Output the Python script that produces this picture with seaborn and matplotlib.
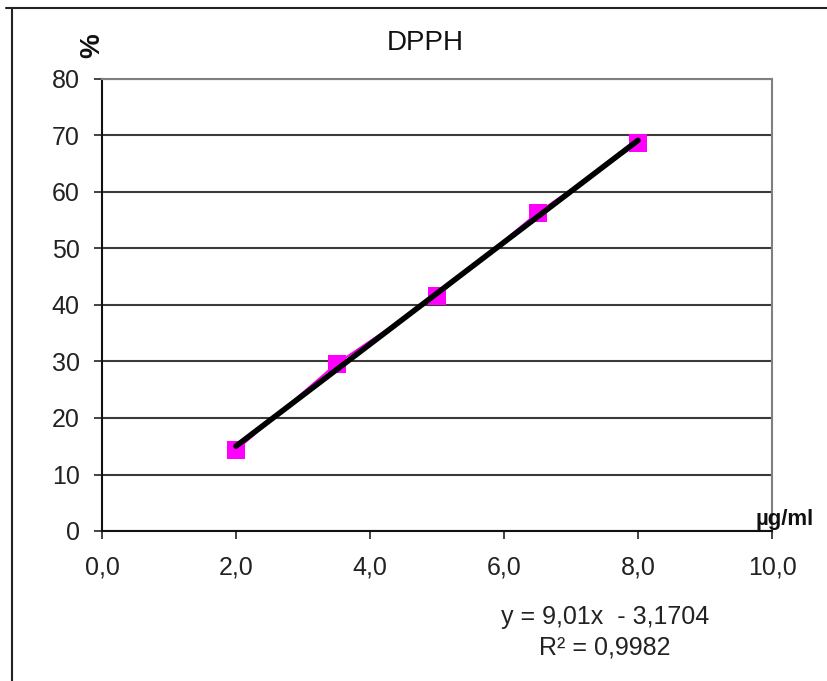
import matplotlib
matplotlib.use("Agg")
import matplotlib.pyplot as plt
from matplotlib.lines import Line2D
import seaborn as sns
import numpy as np
import pandas as pd

# Data
concentration = [2.0, 3.5, 5.0, 6.5, 8.0]
inhibition = [14.3, 29.6, 41.6, 56.3, 68.6]
x_ticks = [0, 2, 4, 6, 8, 10]
x_tick_labels = ["0,0", "2,0", "4,0", "6,0", "8,0", "10,0"]
y_ticks = [0, 10, 20, 30, 40, 50, 60, 70, 80]
equation_text = "y = 9,01x  - 3,1704"
r2_text = "R² = 0,9982"

sns.set_theme(style="white")
plt.rcParams['font.family'] = ['Liberation Sans', 'DejaVu Sans']

df = pd.DataFrame({"x": concentration, "y": inhibition})

fig = plt.figure(figsize=(8.27, 6.81), dpi=100)
ax = fig.add_axes([102/827, 1-531/681, 670/827, 452/681])

sns.lineplot(data=df, x="x", y="y", ax=ax, color="#FF00FF", marker="s",
             markersize=13.5, markeredgewidth=0, linewidth=1.5, zorder=3)
sns.regplot(data=df, x="x", y="y", ax=ax, ci=None, scatter=False,
            line_kws=dict(color="black", linewidth=4, solid_capstyle="round", zorder=4))

ax.set_xlim(0, 10)
ax.set_ylim(0, 80)
ax.set_xticks(x_ticks)
ax.set_xticklabels(x_tick_labels)
ax.set_yticks(y_ticks)
ax.set_xlabel("")
ax.set_ylabel("")
ax.yaxis.grid(True, color="#3a3a3a", linewidth=1.5)
ax.xaxis.grid(False)
ax.set_axisbelow(True)
ax.tick_params(axis="both", which="both", direction="out", length=6, width=1.2,
               colors="#222222", labelsize=18, labelcolor="#222222")
ax.tick_params(axis="x", pad=12)
ax.tick_params(axis="y", pad=10)
ax.tick_params(left=True, bottom=True)
for s in ["left", "bottom"]:
    ax.spines[s].set_color("#111111")
    ax.spines[s].set_linewidth(1.5)
for s in ["top", "right"]:
    ax.spines[s].set_color("#808080")
    ax.spines[s].set_linewidth(1.5)

fig.text(425/827, 1-43/681, "DPPH", ha="center", va="center", fontsize=20, color="#111111")
fig.text(92/827, 1-46/681, "%", ha="center", va="center", rotation=90,
         fontsize=20, fontweight="bold", color="#111111")
fig.text(785/827, 1-519/681, "µg/ml", ha="center", va="center",
         fontsize=16, fontweight="bold", color="#111111")
fig.text(605/827, 1-617/681, equation_text, ha="center", va="center", fontsize=18, color="#222222")
fig.text(605/827, 1-648/681, r2_text, ha="center", va="center", fontsize=18, color="#222222")

# outer border
fig.add_artist(Line2D([12/827, 12/827], [0, 1-8/681], transform=fig.transFigure,
                      color="#222222", linewidth=1.5))
fig.add_artist(Line2D([6/827, 1], [1-8/681, 1-8/681], transform=fig.transFigure,
                      color="#222222", linewidth=1.5))

fig.savefig("out.png", dpi=100)
